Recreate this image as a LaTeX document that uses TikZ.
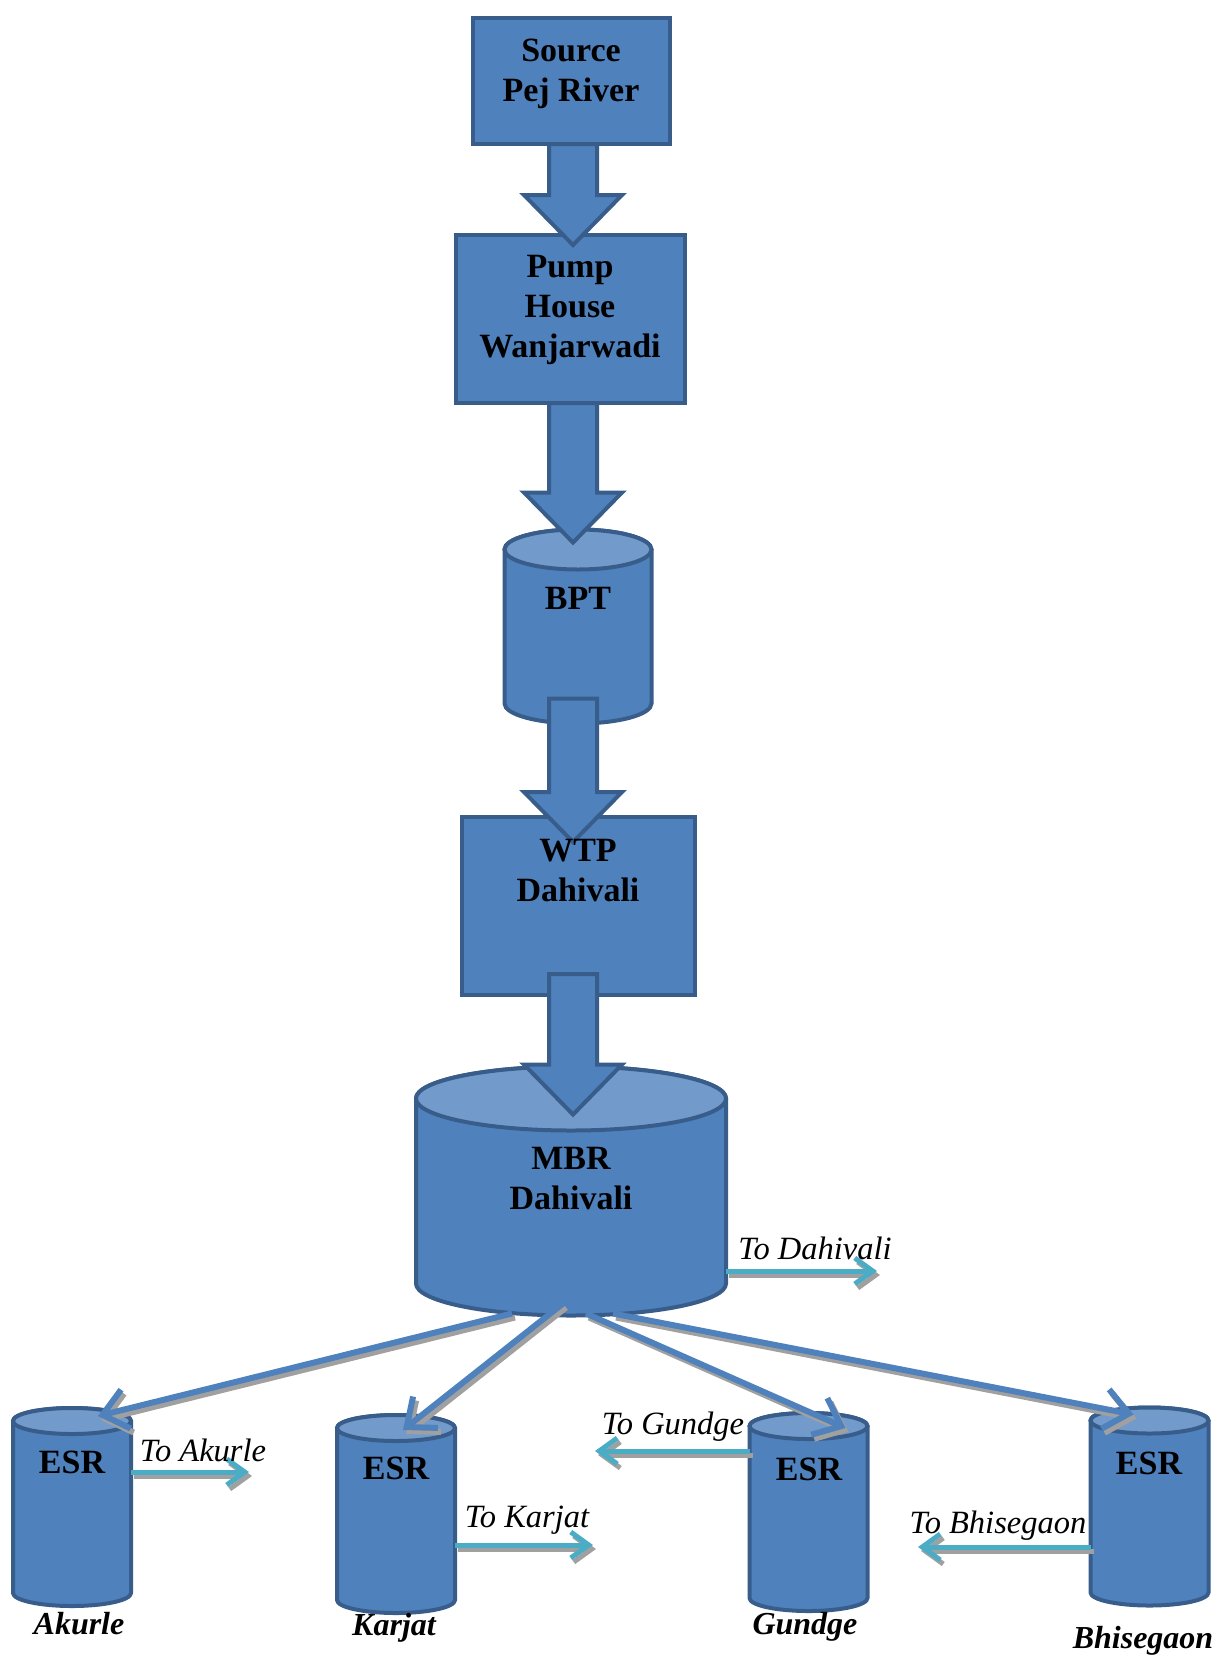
\documentclass[tikz,border=0pt]{standalone}
\usepackage{fontspec}
\setmainfont{Liberation Serif}
\definecolor{tankblue}{RGB}{79, 129, 189}
\definecolor{tankedge}{RGB}{56, 93, 138}
\definecolor{tanktop}{RGB}{114, 155, 203}
\definecolor{outletcyan}{RGB}{75, 172, 198}
\definecolor{shadowgray}{RGB}{160, 160, 160}
\usetikzlibrary{arrows.meta, calc}

\tikzset{
  unit/.style={draw=tankedge, fill=tankblue, line width=4.5pt, outer sep=0pt},
  tank/.style={inner sep=0pt, outer sep=0pt},
  tankwall/.style={draw=tankedge, fill=tankblue, line width=4pt},
  tankcap/.style={draw=tankedge, fill=tanktop, line width=4pt},
  flow/.style={draw=tankedge, fill=tankblue, line width=4pt},
  pipe/.style={draw=tankblue, line width=6pt, -{Straight Barb[length=24pt, width=40pt]}},
  outlet/.style={draw=outletcyan, line width=5pt, -{Straight Barb[length=18pt, width=26pt]}},
  dropshadow/.style={draw=shadowgray, transform canvas={xshift=3pt, yshift=-4pt}},
  head/.style={font=\fontsize{34}{40}\selectfont\bfseries, align=center},
  note/.style={font=\fontsize{32.5}{36}\selectfont\itshape, inner sep=0pt},
  place/.style={font=\fontsize{32}{36}\selectfont\bfseries\itshape, inner sep=0pt},
}

\begin{document}
\begin{tikzpicture}[x=1pt, y=-1pt]
  \useasboundingbox (0, 0) rectangle (1216, 1657);

  % Treatment chain
  \node[unit, minimum width=197, minimum height=126] (src) at (571.5, 81) {};
  \node[unit, minimum width=229, minimum height=168] (pump) at (570.5, 319) {};
  \node[tank, minimum width=147, minimum height=194] (bpt) at (578, 626.5) {};
  \node[unit, minimum width=233, minimum height=178] (wtp) at (578.5, 906) {};
  \node[tank, minimum width=310, minimum height=249] (mbr) at (571, 1191) {};

  % Elevated reservoirs
  \node[tank, minimum width=118, minimum height=198] (akurle) at (72, 1507) {};
  \node[tank, minimum width=118, minimum height=198] (karjat) at (396, 1514) {};
  \node[tank, minimum width=118, minimum height=198] (gundge) at (808.5, 1512) {};
  \node[tank, minimum width=118, minimum height=198] (bhise) at (1149.5, 1506.5) {};

  % Cylinders
  \foreach \tank/\ry in {bpt/20, mbr/32, akurle/13, karjat/13, gundge/13, bhise/13} {
    \draw[tankwall] let \p1 = (\tank.north west), \p2 = (\tank.south east) in
      (\x1, \y1-\ry) -- (\x1, \y2+\ry)
      arc[start angle=180, end angle=360, x radius={(\x2-\x1)/2}, y radius=\ry*1pt]
      -- (\x2, \y1-\ry)
      arc[start angle=0, end angle=180, x radius={(\x2-\x1)/2}, y radius=\ry*1pt] -- cycle;
    \draw[tankcap] let \p1 = (\tank.north west), \p2 = (\tank.south east) in
      ({(\x1+\x2)/2}, \y1-\ry) ellipse[x radius={(\x2-\x1)/2}, y radius=\ry*1pt];
  }

  % Free ends of the outlets
  \coordinate (dahivaliend) at (877, 1271);
  \coordinate (akurleend) at (249, 1472);
  \coordinate (karjatend) at (593, 1545);
  \coordinate (gundgeend) at (595, 1451);
  \coordinate (bhiseend) at (918, 1547);
  \coordinate (axis) at (573, 0);

  % Block arrows
  \foreach \one/\two/\lift/\drop in {src/pump/0/10, pump/bpt/0/13, bpt/wtp/-25/25, wtp/mbr/-21/48}
    \draw[flow] let \p1 = ($(\one.south -| axis)+(0,\lift)$), \p2 = ($(\two.north -| axis)+(0,\drop)$) in
      (\x1-24, \y1) -- (\x1-24, \y2+50) -- (\x1-49, \y2+50) -- (\x2, \y2)
      -- (\x1+49, \y2+50) -- (\x1+24, \y2+50) -- (\x1+24, \y1) -- cycle;

  % Mains to the reservoirs
  \foreach \tank/\sx/\sy/\ex/\ey in {akurle/-59/-2/26/8, karjat/-8/-12/7/15, gundge/15/-2/37/15, bhise/42/-2/-16/7} {
    \draw[pipe, dropshadow] ([shift={(\sx,\sy)}]mbr.south) -- ([shift={(\ex,\ey)}]\tank.north);
    \draw[pipe] ([shift={(\sx,\sy)}]mbr.south) -- ([shift={(\ex,\ey)}]\tank.north);
  }

  % Outlets
  \foreach \tank/\tip in {mbr.east/dahivaliend, akurle.east/akurleend, karjat.east/karjatend, gundge.west/gundgeend, bhise.west/bhiseend} {
    \draw[outlet, dropshadow] (\tank |- \tip) -- (\tip);
    \draw[outlet] (\tank |- \tip) -- (\tip);
  }

  % Texts
  \node[head] (srctext) at (571, 74) {Source\\Pej River};
  \node[head] (pumptext) at (570, 310) {Pump\\House\\Wanjarwadi};
  \node[head] (bpttext) at (578, 598) {BPT};
  \node[head] (wtptext) at (578, 871) {WTP\\Dahivali};
  \node[head] (mbrtext) at (571, 1179) {MBR\\Dahivali};
  \node[head] (akurletext) at (72, 1462) {ESR};
  \node[head] (karjattext) at (396, 1468) {ESR};
  \node[head] (gundgetext) at (809, 1469) {ESR};
  \node[head] (bhisetext) at (1149, 1463) {ESR};

  \node[note] (todahivali) at (815, 1248) {To Dahivali};
  \node[note] (toakurle) at (203, 1450) {To Akurle};
  \node[note] (tokarjat) at (527, 1520) {To Karjat};
  \node[note] (togundge) at (673, 1427) {To Gundge};
  \node[note] (tobhise) at (998, 1526) {To Bhisegaon};

  \node[place] (akurlename) at (79, 1624) {Akurle};
  \node[place] (karjatname) at (394, 1628) {Karjat};
  \node[place] (gundgename) at (805, 1627) {Gundge};
  \node[place] (bhisename) at (1143, 1641) {Bhisegaon};
\end{tikzpicture}
\end{document}
